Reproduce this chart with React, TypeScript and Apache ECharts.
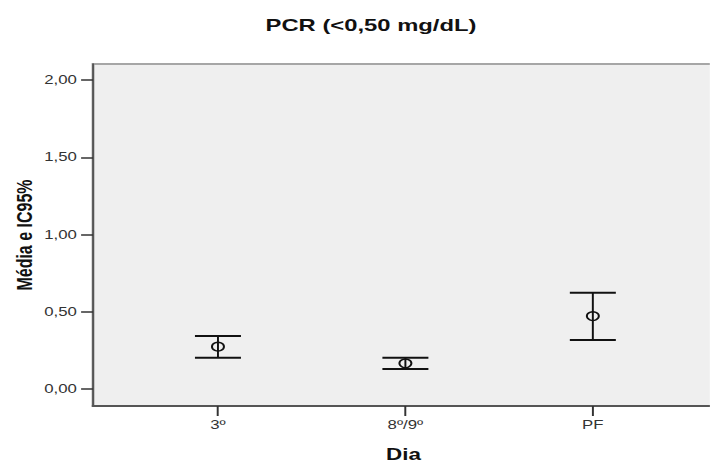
import React, { useEffect, useRef } from "react";
import * as echarts from "echarts";

const categories = ["3º", "8º/9º", "PF"];
const means = [0.274, 0.166, 0.472];
const lowers = [0.203, 0.129, 0.317];
const uppers = [0.343, 0.203, 0.623];
const yTicks = [0, 0.5, 1, 1.5, 2];

// the reference is drawn horizontally stretched
const SX = 1.4;
const W = 710 / SX;
const H = 463;

export default function App() {
  const ref = useRef<HTMLDivElement>(null);
  useEffect(() => {
    if (!ref.current) return;
    const chart = echarts.init(ref.current, null, { renderer: "svg" });
    const data = categories.map((c, i) => [i + 1, means[i], lowers[i], uppers[i]]);
    const font = "Liberation Sans, Arial, sans-serif";
    chart.setOption({
      animation: false,
      backgroundColor: "#ffffff",
      title: {
        text: "PCR (<0,50 mg/dL)",
        left: 364 / SX,
        top: 11,
        textAlign: "center",
        textStyle: { fontFamily: font, fontWeight: "bold", fontSize: 17, color: "#111" },
      },
      grid: {
        left: 93 / SX,
        top: 64,
        right: -3,
        height: 342,
        show: true,
        backgroundColor: "#efefef",
        borderColor: "#a6a6a6",
        borderWidth: 2,
        containLabel: false,
        outerBoundsMode: "none",
      },
      xAxis: {
        type: "value",
        min: 1 - 125 / 187.5,
        max: 3 + (117 + 3 * SX) / 187.5,
        name: "Dia",
        nameLocation: "middle",
        nameGap: 40,
        nameMoveOverlap: false,
        nameTextStyle: { fontFamily: font, fontWeight: "bold", fontSize: 16, color: "#111" },
        axisLine: { show: true, onZero: false, lineStyle: { color: "#555", width: 2 } },
        axisTick: { show: true, length: 10, customValues: [1, 2, 3], lineStyle: { color: "#333", width: 1.4 } },
        axisLabel: {
          customValues: [1, 2, 3],
          formatter: (v: number) => categories[Math.round(v) - 1] ?? "",
          fontFamily: font,
          fontSize: 12,
          color: "#333",
          margin: 13,
        },
        splitLine: { show: false },
      },
      yAxis: {
        type: "value",
        min: -0.11,
        max: 2.1036,
        name: "Média e IC95%",
        nameLocation: "middle",
        nameGap: 41.5,
        nameMoveOverlap: false,
        nameTextStyle: { fontFamily: font, fontWeight: "bold", fontSize: 16, color: "#111" },
        axisLine: { show: true, onZero: false, lineStyle: { color: "#555", width: 1.4 } },
        axisTick: { show: true, length: 8.5, customValues: yTicks, lineStyle: { color: "#333", width: 1.5 } },
        axisLabel: {
          customValues: yTicks,
          formatter: (v: number) => v.toFixed(2).replace(".", ","),
          fontFamily: font,
          fontSize: 12,
          color: "#333",
          margin: 11.5,
        },
        splitLine: { show: false },
      },
      series: [
        {
          type: "custom",
          data,
          renderItem: (params: any, api: any) => {
            const x = api.value(0);
            const m = api.coord([x, api.value(1)]);
            const lo = api.coord([x, api.value(2)]);
            const hi = api.coord([x, api.value(3)]);
            const hw = 23 / SX;
            const vst = { stroke: "#111", lineWidth: 1.4 };
            const hst = { stroke: "#111", lineWidth: 2 };
            return {
              type: "group",
              children: [
                { type: "line", shape: { x1: lo[0], y1: lo[1], x2: hi[0], y2: hi[1] }, style: vst },
                { type: "line", shape: { x1: lo[0] - hw, y1: lo[1], x2: lo[0] + hw, y2: lo[1] }, style: hst },
                { type: "line", shape: { x1: hi[0] - hw, y1: hi[1], x2: hi[0] + hw, y2: hi[1] }, style: hst },
                {
                  type: "circle",
                  shape: { cx: m[0], cy: m[1], r: 4.3 },
                  style: { fill: "none", stroke: "#111", lineWidth: 1.4 },
                },
              ],
            };
          },
        },
      ],
    });
    return () => chart.dispose();
  }, []);
  return (
    <div
      ref={ref}
      style={{
        position: "absolute",
        left: 0,
        top: 0,
        width: W,
        height: H,
        transform: `scaleX(${SX})`,
        transformOrigin: "0 0",
      }}
    />
  );
}
